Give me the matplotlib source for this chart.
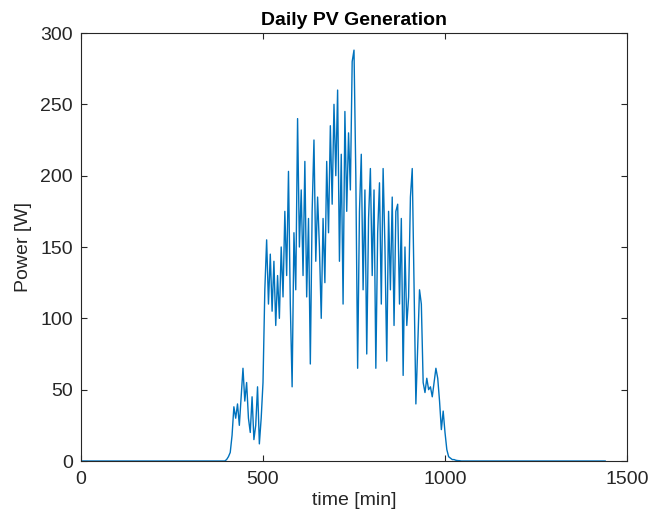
import numpy as np
import matplotlib
matplotlib.use("Agg")
import matplotlib.pyplot as plt

# PV power, one value every 5 minutes from 400 to 1060 min
t_start = 400
t_step = 5
power = [1, 3, 6, 18, 38, 30, 40, 25, 45, 65,
         42, 55, 30, 20, 45, 15, 25, 52, 12, 30,
         55, 120, 155, 110, 145, 105, 140, 95, 130, 100,
         150, 115, 175, 130, 203, 110, 52, 160, 120, 240,
         150, 190, 130, 210, 115, 170, 68, 175, 225, 140,
         185, 150, 100, 170, 125, 210, 160, 235, 180, 250,
         200, 260, 140, 215, 110, 245, 175, 230, 190, 280,
         288, 200, 65, 175, 215, 120, 190, 75, 170, 205,
         130, 190, 65, 160, 195, 110, 205, 150, 70, 175,
         120, 185, 95, 175, 180, 110, 170, 60, 150, 95,
         115, 185, 205, 120, 40, 80, 120, 110, 55, 48,
         58, 50, 52, 45, 55, 65, 58, 42, 22, 35,
         20, 8, 3, 2, 1, 1, 0.5, 0.3, 0.2, 0, 0, 0, 0]

t_day_end = 1440

t_act = t_start + t_step * np.arange(len(power))
t = np.concatenate([[0, t_start - t_step], t_act, [t_day_end]])
p = np.concatenate([[0, 0], power, [0]])

txt = "#262626"
plt.rcParams['font.family'] = ['Liberation Sans', 'DejaVu Sans']

fig = plt.figure(figsize=(6.58, 5.19), dpi=100)
ax = fig.add_axes([81 / 658, 58 / 519, 546 / 658, 428 / 519])
ax.plot(t, p, color="#0072BD", linewidth=1.0)

ax.set_xlim(0, 1500)
ax.set_ylim(0, 300)
ax.set_xticks([0, 500, 1000, 1500])
ax.set_yticks(np.arange(0, 301, 50))
ax.tick_params(direction="in", top=True, right=True, labelsize=14, colors=txt, length=4)
ax.tick_params(axis="x", pad=7)
ax.tick_params(axis="y", pad=6)
for s in ax.spines.values():
    s.set_color(txt)
    s.set_linewidth(0.8)

ax.set_xlabel("time [min]", fontsize=14, color=txt, labelpad=3)
ax.set_ylabel("Power [W]", fontsize=14, color=txt, labelpad=6)
ax.set_title("Daily PV Generation", fontsize=14, fontweight="bold", color="black", pad=6)

fig.savefig("out.png", dpi=100)
